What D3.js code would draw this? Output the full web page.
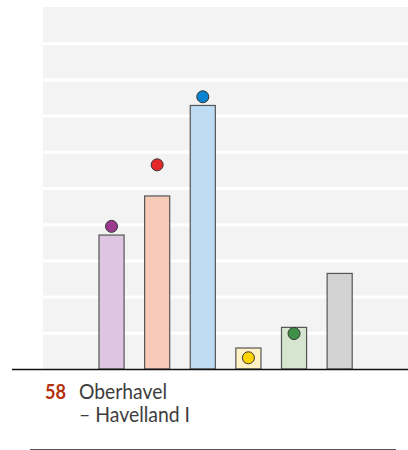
<!DOCTYPE html>
<html>
<head>
<meta charset="utf-8">
<script src="https://cdn.jsdelivr.net/npm/d3@7"></script>
<style>
  body { margin: 0; background: #fff; }
  svg { display: block; }
</style>
</head>
<body>
<div id="chart"></div>
<script>
// Wahlkreis 58 - bar = one vote, dot = other vote (percent)
var parties    = ["linke", "spd", "cdu", "fdp", "gruene", "other"];
var barValues  = [18.5, 23.9, 36.4, 2.9, 5.75, 13.2];
var dotValues  = [19.7, 28.2, 37.6, 1.55, 4.9, null];
var barColors  = ["#dec5e1", "#f7cab7", "#bddcf3", "#fff2c4", "#d5e5cf", "#d2d2d2"];
var dotColors  = ["#9b3a8e", "#e3292b", "#0a83d1", "#ffd400", "#3f9148", null];
var yTicks     = [0, 5, 10, 15, 20, 25, 30, 35, 40, 45, 50];
var districtNo = "58";
var districtName = ["Oberhavel", "\u2013 Havelland I"];

var width = 408, height = 450;
var margin = {top: 7, right: 0, bottom: 81, left: 43};
var plotW = width - margin.left - margin.right;
var plotH = height - margin.top - margin.bottom;

var svg = d3.select("#chart").append("svg")
  .attr("width", width)
  .attr("height", height);

var g = svg.append("g")
  .attr("transform", "translate(" + margin.left + "," + margin.top + ")");

var step = plotW / 8;
var x = d3.scaleBand()
  .domain(parties)
  .range([step * 1 - 0.4, step * 7 - 0.4])
  .paddingInner(0.45)
  .paddingOuter(0.225);

var y = d3.scaleLinear()
  .domain([0, 50])
  .range([plotH, 0]);

// grey panel
g.append("rect")
  .attr("x", 0)
  .attr("y", 0)
  .attr("width", plotW)
  .attr("height", plotH)
  .attr("fill", "#f3f3f3");

// white gridlines
g.append("g")
  .attr("class", "grid")
  .call(d3.axisLeft(y).tickValues(yTicks.slice(1, -1)).tickSize(-plotW).tickFormat(""))
  .call(function(a) { a.select(".domain").remove(); })
  .selectAll("line")
    .attr("stroke", "#fff")
    .attr("stroke-width", 3);

// bars
g.selectAll(".bar")
  .data(parties)
  .enter()
  .append("rect")
    .attr("class", "bar")
    .attr("x", function(d) { return x(d) + 0.5; })
    .attr("y", function(d, i) { return y(barValues[i]); })
    .attr("width", x.bandwidth())
    .attr("height", function(d, i) { return plotH - y(barValues[i]); })
    .attr("fill", function(d, i) { return barColors[i]; })
    .attr("stroke", "#555")
    .attr("stroke-width", 1.2);

// dots
g.selectAll(".dot")
  .data(parties.filter(function(d, i) { return dotValues[i] != null; }))
  .enter()
  .append("circle")
    .attr("class", "dot")
    .attr("cx", function(d) { return x(d) + 0.5 + x.bandwidth() / 2; })
    .attr("cy", function(d) { return y(dotValues[parties.indexOf(d)]); })
    .attr("r", 6)
    .attr("fill", function(d) { return dotColors[parties.indexOf(d)]; })
    .attr("stroke", "#333")
    .attr("stroke-width", 1);

// baseline
svg.append("line")
  .attr("x1", 12)
  .attr("x2", width)
  .attr("y1", margin.top + y(0) + 0.5)
  .attr("y2", margin.top + y(0) + 0.5)
  .attr("stroke", "#111")
  .attr("stroke-width", 1.6);

// label
var font = "Lato, 'Open Sans', sans-serif";
svg.append("text")
  .attr("x", 45)
  .attr("y", 398.5)
  .attr("font-family", font)
  .attr("font-size", 20.5)
  .attr("font-weight", "bold")
  .attr("fill", "#b3320f")
  .attr("textLength", 21)
  .attr("lengthAdjust", "spacingAndGlyphs")
  .text(districtNo);

svg.selectAll(".name")
  .data(districtName)
  .enter()
  .append("text")
    .attr("class", "name")
    .attr("x", 79)
    .attr("y", function(d, i) { return 398.5 + i * 23; })
    .attr("font-family", font)
    .attr("font-size", 20.5)
    .attr("fill", "#3d3d3d")
    .attr("textLength", function(d, i) { return i == 0 ? 88 : 111; })
    .attr("lengthAdjust", "spacingAndGlyphs")
    .text(function(d) { return d; });

// bottom rule
svg.append("line")
  .attr("x1", 30)
  .attr("x2", 396)
  .attr("y1", 449.5)
  .attr("y2", 449.5)
  .attr("stroke", "#555")
  .attr("stroke-width", 1);
</script>
</body>
</html>
